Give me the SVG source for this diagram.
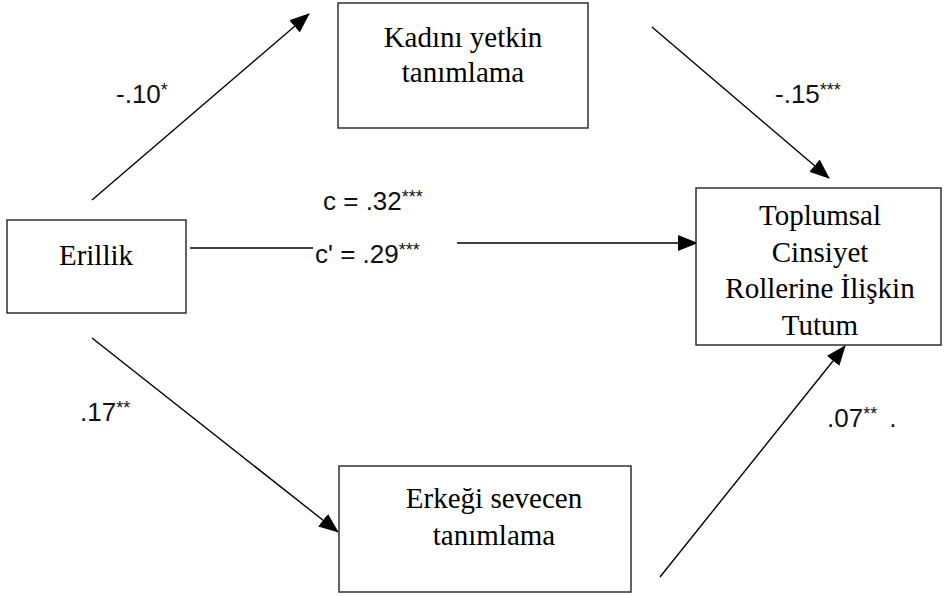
<svg xmlns="http://www.w3.org/2000/svg" width="948" height="596" viewBox="0 0 948 596">
<style>
.box{fill:#fff;stroke:#222;stroke-width:1.4}
.nt{font-family:"Liberation Serif",serif;font-size:29px;fill:#000;text-anchor:middle}
.lb{font-family:"Liberation Sans",sans-serif;font-size:26px;fill:#111}
.st{font-size:18px}
.ln{stroke:#000;stroke-width:1.4;fill:none}
</style>
<defs>
<marker id="ah" markerUnits="userSpaceOnUse" markerWidth="20" markerHeight="16" refX="19" refY="8" orient="auto">
<path d="M0,0 L20,8 L0,16 Z" fill="#000"/>
</marker>
</defs>
<rect width="948" height="596" fill="#fff"/>
<g id="connectors">
<line class="ln" x1="92" y1="200" x2="309" y2="14" marker-end="url(#ah)"/>
<line class="ln" x1="652" y1="27" x2="829" y2="178" marker-end="url(#ah)"/>
<line class="ln" x1="190" y1="248" x2="313" y2="248"/>
<line class="ln" x1="457" y1="243" x2="697" y2="243" marker-end="url(#ah)"/>
<line class="ln" x1="92" y1="338" x2="338" y2="532" marker-end="url(#ah)"/>
<line class="ln" x1="660" y1="577" x2="845" y2="346" marker-end="url(#ah)"/>
</g>
<g id="labels">
<text class="lb" x="116" y="103">-.10<tspan class="st" dy="-7">*</tspan></text>
<text class="lb" x="775" y="103">-.15<tspan class="st" dy="-7">***</tspan></text>
<text class="lb" x="323" y="210">c = .32<tspan class="st" dy="-7">***</tspan></text>
<text class="lb" x="315" y="263">c' = .29<tspan class="st" dy="-7">***</tspan></text>
<text class="lb" x="80" y="421">.17<tspan class="st" dy="-7">**</tspan></text>
<text class="lb" x="827" y="427">.07<tspan class="st" dy="-7">**</tspan><tspan dy="7" dx="12">.</tspan></text>
</g>
<g id="node-erillik">
<rect class="box" x="7" y="220" width="179" height="93"/>
<text class="nt" x="96" y="265">Erillik</text>
</g>
<g id="node-kadini">
<rect class="box" x="338" y="3" width="250" height="125"/>
<text class="nt" x="463" y="47">Kadını yetkin</text>
<text class="nt" x="463" y="82">tanımlama</text>
</g>
<g id="node-erkegi">
<rect class="box" x="339" y="466" width="292" height="126"/>
<text class="nt" x="494" y="508">Erkeği sevecen</text>
<text class="nt" x="494" y="545">tanımlama</text>
</g>
<g id="node-tutum">
<rect class="box" x="696" y="188" width="245" height="157"/>
<text class="nt" x="820" y="225">Toplumsal</text>
<text class="nt" x="820" y="262">Cinsiyet</text>
<text class="nt" x="820" y="298">Rollerine İlişkin</text>
<text class="nt" x="820" y="335">Tutum</text>
</g>
</svg>
